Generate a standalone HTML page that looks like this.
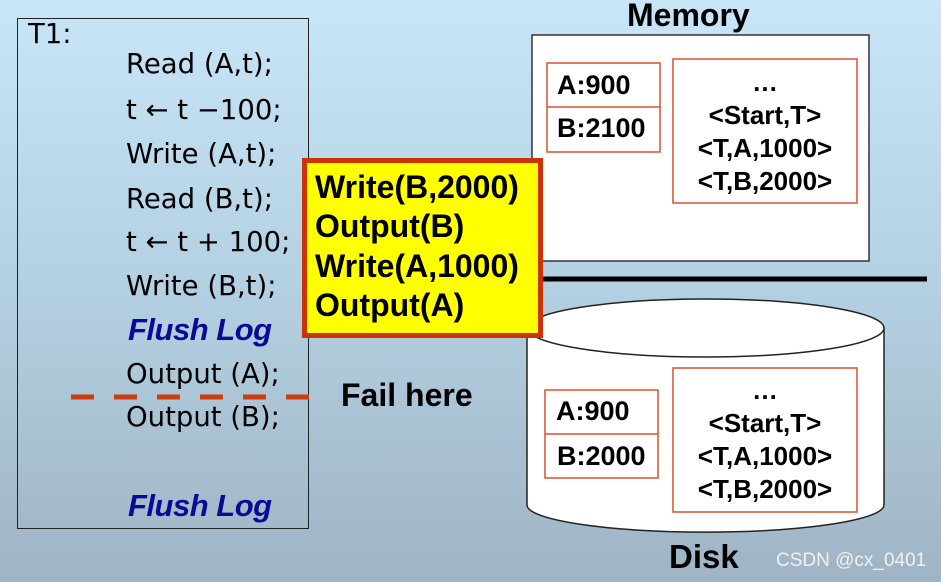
<!DOCTYPE html>
<html><head><meta charset="utf-8"><style>
html,body{margin:0;padding:0}
body{width:941px;height:582px;position:relative;overflow:hidden;background:linear-gradient(#c9e6f8,#b3d0e2 50%,#9fb4c4);font-family:"Liberation Sans",sans-serif}
.a{position:absolute;white-space:nowrap;line-height:1}
.code{font-family:"DejaVu Sans","Liberation Sans",sans-serif;font-size:27.5px;color:#000;left:126px}
.fl{font-family:"Liberation Sans",sans-serif;font-weight:bold;font-style:italic;color:#0a0a96;font-size:31px;left:128px;letter-spacing:-0.5px}
.b{font-weight:bold}
.box{position:absolute;box-sizing:border-box}
</style></head><body>
<div class="box" style="left:17px;top:18px;width:292px;height:511px;border:1.5px solid #222"></div>
<div class="a code" style="left:28px;top:21px">T1:</div>
<div class="a code" style="top:51px">Read (A,t);</div>
<div class="a code" style="top:97px">t ← t −100;</div>
<div class="a code" style="top:141px">Write (A,t);</div>
<div class="a code" style="top:186px">Read (B,t);</div>
<div class="a code" style="top:229px">t ← t + 100;</div>
<div class="a code" style="top:273px">Write (B,t);</div>
<div class="a fl" style="top:314px">Flush Log</div>
<div class="a code" style="top:361px">Output (A);</div>
<div class="a code" style="top:404px">Output (B);</div>
<div class="a fl" style="top:490px">Flush Log</div>
<svg class="box" style="left:0;top:0" width="941" height="582">
<line x1="71" y1="397" x2="314" y2="397" stroke="#cc3d10" stroke-width="5" stroke-dasharray="23 20"/>
<rect x="532" y="35" width="337" height="226" fill="#fff" stroke="#333" stroke-width="1.5"/>
<line x1="540" y1="279" x2="927" y2="279" stroke="#000" stroke-width="5"/>
<path d="M527,328 L527,505 A178,27 0 0 0 884,505 L884,328" fill="#fff" stroke="#222" stroke-width="1.5"/>
<ellipse cx="705.5" cy="328" rx="178.5" ry="29" fill="#fff" stroke="#222" stroke-width="1.5"/>
<rect x="547" y="63" width="113" height="89" fill="#fff" stroke="#d9532a" stroke-width="1.5"/>
<line x1="547" y1="107" x2="660" y2="107" stroke="#d9532a" stroke-width="1.5"/>
<rect x="673" y="59" width="184" height="144" fill="#fff" stroke="#d9532a" stroke-width="1.5"/>
<rect x="545" y="390" width="113" height="88" fill="#fff" stroke="#d9532a" stroke-width="1.5"/>
<line x1="545" y1="434" x2="658" y2="434" stroke="#d9532a" stroke-width="1.5"/>
<rect x="673" y="368" width="184" height="144" fill="#fff" stroke="#d9532a" stroke-width="1.5"/>
</svg>
<div class="box" style="left:302px;top:158px;width:241px;height:180px;background:#ffff00;border:5px solid #cc3300"></div>
<div class="a b" style="left:315px;top:171px;font-size:32px">Write(B,2000)</div>
<div class="a b" style="left:315px;top:210px;font-size:32px">Output(B)</div>
<div class="a b" style="left:315px;top:250px;font-size:32px">Write(A,1000)</div>
<div class="a b" style="left:315px;top:289px;font-size:32px">Output(A)</div>
<div class="a b" style="left:627px;top:-1px;font-size:32px">Memory</div>
<div class="a b" style="left:669px;top:540px;font-size:33px">Disk</div>
<div class="a b" style="left:341px;top:379px;font-size:32px">Fail here</div>
<div class="a b" style="left:557px;top:72px;font-size:27px">A:900</div>
<div class="a b" style="left:557px;top:115px;font-size:27px">B:2100</div>
<div class="a b" style="left:673px;width:184px;text-align:center;top:66px;font-size:26px;line-height:33px">…<br>&lt;Start,T&gt;<br>&lt;T,A,1000&gt;<br>&lt;T,B,2000&gt;</div>
<div class="a b" style="left:556px;top:398px;font-size:27px">A:900</div>
<div class="a b" style="left:557px;top:443px;font-size:27px">B:2000</div>
<div class="a b" style="left:673px;width:184px;text-align:center;top:374px;font-size:26px;line-height:33px">…<br>&lt;Start,T&gt;<br>&lt;T,A,1000&gt;<br>&lt;T,B,2000&gt;</div>
<div class="a" style="left:776px;top:551px;font-size:19px;color:#eef2f5">CSDN @cx_0401</div>
</body></html>
